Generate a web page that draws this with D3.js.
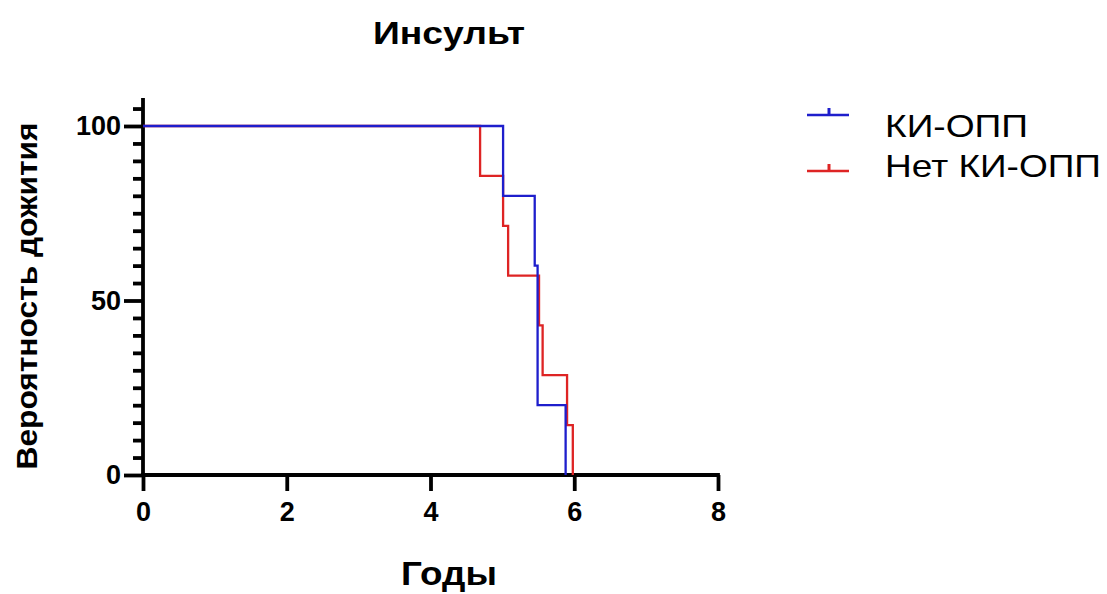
<!DOCTYPE html>
<html lang="ru">
<head>
  <meta charset="UTF-8">
  <title>Инсульт</title>
  <style>
    body { margin: 0; background: #fff; }
    svg { display: block; font-family: "Liberation Sans", Arial, sans-serif; }
    .axis text { font-size: 27px; font-weight: bold; fill: #000; }
  </style>
</head>
<body>
  <div id="chart"></div>
  <script src="https://d3js.org/d3.v7.min.js"></script>
  <script>
    // данные (кривые Каплана-Мейера)
    const groups = ["КИ-ОПП", "Нет КИ-ОПП"];
    const colors = ["#1e1ecc", "#de2424"];
    const kiTimes = [0, 5.01, 5.45, 5.49, 5.88];
    const kiSurv  = [100, 80, 60, 20, 0];
    const noTimes = [0, 4.69, 5.01, 5.08, 5.51, 5.56, 5.90, 5.98];
    const noSurv  = [100, 85.7, 71.4, 57.1, 42.9, 28.6, 14.3, 0];
    const xTicks = [0, 2, 4, 6, 8];
    const yTicks = [0, 50, 100];

    const width = 1107, height = 594;

    const svg = d3.select("#chart")
                  .append("svg")
                  .attr("width", width)
                  .attr("height", height);

    const x = d3.scaleLinear().domain([0, 8]).range([143, 718]);
    const y = d3.scaleLinear().domain([0, 100]).range([475, 126]);

    const thick = g => g.selectAll("path, line")
                        .attr("stroke", "#000")
                        .attr("stroke-width", 3.8);

    // ось Y: мелкие деления через 5
    const minor = d3.range(0, 110, 5).filter(v => v % 50 !== 0);
    svg.append("g")
       .attr("class", "axis")
       .attr("transform", `translate(${x(0)},0)`)
       .call(d3.axisLeft(y).tickValues(minor).tickSize(10).tickFormat(""))
       .call(g => g.select(".domain").remove())
       .call(thick);
    svg.append("g")
       .attr("class", "axis")
       .attr("transform", `translate(${x(0)},0)`)
       .call(d3.axisLeft(y).tickValues(yTicks).tickSize(19).tickSizeOuter(0).tickPadding(3))
       .call(g => g.select(".domain").attr("d", `M0,${y(108)}V${y(0) + 1.9}`))
       .call(thick);

    // ось X
    svg.append("g")
       .attr("class", "axis")
       .attr("transform", `translate(0,${y(0)})`)
       .call(d3.axisBottom(x).tickValues(xTicks).tickSize(16).tickSizeOuter(0).tickPadding(11).tickFormat(d3.format("d")))
       .call(g => g.select(".domain").attr("d", `M${x(0) - 1.9},0H${x(8) + 1.9}`))
       .call(thick);

    // ступенчатые кривые
    const line = d3.line()
                   .x(d => x(d[0]))
                   .y(d => y(d[1]))
                   .curve(d3.curveStepAfter);
    const series = [
      d3.zip(kiTimes, kiSurv),
      d3.zip(noTimes, noSurv)
    ];
    // красная рисуется первой, синяя поверх
    [1, 0].forEach(i => {
      svg.append("path")
         .attr("d", line(series[i]))
         .attr("fill", "none")
         .attr("stroke", colors[i])
         .attr("stroke-width", 2.3);
    });

    // заголовки
    svg.append("text")
       .attr("x", 449).attr("y", 44)
       .attr("text-anchor", "middle")
       .attr("font-size", 32).attr("font-weight", "bold")
       .attr("textLength", 152).attr("lengthAdjust", "spacingAndGlyphs")
       .text("Инсульт");
    svg.append("text")
       .attr("x", 449).attr("y", 585)
       .attr("text-anchor", "middle")
       .attr("font-size", 34).attr("font-weight", "bold")
       .attr("textLength", 96).attr("lengthAdjust", "spacingAndGlyphs")
       .text("Годы");
    svg.append("text")
       .attr("transform", "translate(37,296) rotate(-90)")
       .attr("text-anchor", "middle")
       .attr("font-size", 30).attr("font-weight", "bold")
       .attr("textLength", 347).attr("lengthAdjust", "spacingAndGlyphs")
       .text("Вероятность дожития");

    // легенда
    const legY = [115, 171], legBase = [137, 177], legLen = [143, 216];
    const leg = svg.append("g");
    groups.forEach((g, i) => {
      const ly = legY[i];
      leg.append("line")
         .attr("x1", 807).attr("x2", 849)
         .attr("y1", ly).attr("y2", ly)
         .attr("stroke", colors[i]).attr("stroke-width", 2.3);
      leg.append("line")
         .attr("x1", 829).attr("x2", 829)
         .attr("y1", ly).attr("y2", ly - 7)
         .attr("stroke", colors[i]).attr("stroke-width", 3);
      leg.append("text")
         .attr("x", 885).attr("y", legBase[i])
         .attr("font-size", 32)
         .attr("textLength", legLen[i]).attr("lengthAdjust", "spacingAndGlyphs")
         .text(g);
    });
  </script>
</body>
</html>
